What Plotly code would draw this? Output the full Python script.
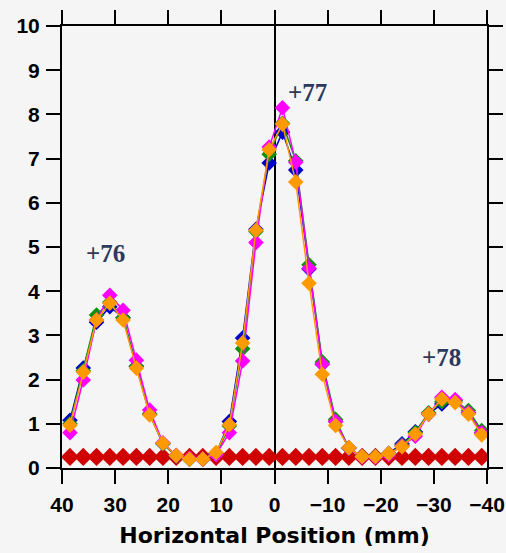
import plotly.graph_objects as go

positions = [38.5, 36, 33.5, 31, 28.5, 26, 23.5, 21, 18.5, 16, 13.5, 11, 8.5, 6, 3.5, 1,
             -1.5, -4, -6.5, -9, -11.5, -14, -16.5, -19, -21.5, -24, -26.5, -29, -31.5, -34, -36.5, -39]

blue = [1.08, 2.26, 3.30, 3.65, 3.40, 2.30, 1.22, 0.55, 0.27, 0.20, 0.20, 0.32, 1.05, 2.94, 5.40, 6.90,
        7.60, 6.74, 4.50, 2.35, 1.05, 0.45, 0.26, 0.26, 0.33, 0.55, 0.82, 1.22, 1.45, 1.52, 1.25, 0.80]
green = [1.00, 2.20, 3.46, 3.75, 3.40, 2.30, 1.22, 0.55, 0.27, 0.20, 0.20, 0.30, 0.95, 2.70, 5.35, 7.10,
         7.80, 6.95, 4.60, 2.40, 1.10, 0.45, 0.26, 0.26, 0.32, 0.52, 0.80, 1.25, 1.50, 1.52, 1.30, 0.85]
magenta = [0.80, 1.99, 3.35, 3.91, 3.57, 2.44, 1.31, 0.57, 0.28, 0.22, 0.20, 0.30, 0.80, 2.42, 5.10, 7.26,
           8.15, 6.92, 4.52, 2.35, 1.05, 0.45, 0.25, 0.25, 0.30, 0.50, 0.72, 1.22, 1.60, 1.55, 1.25, 0.80]
orange = [0.97, 2.17, 3.35, 3.73, 3.35, 2.26, 1.20, 0.56, 0.28, 0.20, 0.20, 0.35, 0.98, 2.83, 5.38, 7.20,
          7.78, 6.47, 4.18, 2.12, 0.96, 0.46, 0.26, 0.26, 0.33, 0.48, 0.77, 1.22, 1.56, 1.48, 1.22, 0.75]
red = [0.25, 0.25, 0.25, 0.25, 0.25, 0.25, 0.25, 0.25, 0.25, 0.25, 0.25, 0.25, 0.25, 0.25, 0.25, 0.25,
       0.25, 0.25, 0.25, 0.25, 0.25, 0.25, 0.25, 0.25, 0.25, 0.25, 0.25, 0.25, 0.25, 0.25, 0.25, 0.25]

peak_labels = ["+76", "+77", "+78"]
peak_x = [31.9, -6.3, -31.4]
peak_y = [4.86, 8.5, 2.51]

x_ticks = [40, 30, 20, 10, 0, -10, -20, -30, -40]
y_ticks = [0, 1, 2, 3, 4, 5, 6, 7, 8, 9, 10]

fig = go.Figure()

series = [
    (red, "#d00000", 14),
    (blue, "#0000cc", 12),
    (green, "#109010", 12),
    (magenta, "#ff00ff", 12),
    (orange, "#ff9900", 12),
]
for vals, col, sz in series:
    fig.add_trace(go.Scatter(
        x=positions, y=vals, mode="lines+markers",
        line=dict(color=col, width=1.5),
        marker=dict(symbol="diamond", size=sz, color=col, line=dict(width=0)),
        showlegend=False, hoverinfo="skip",
    ))

for t, xx, yy in zip(peak_labels, peak_x, peak_y):
    fig.add_annotation(x=xx, y=yy, text="<b>" + t + "</b>", showarrow=False,
                       font=dict(family="Liberation Serif", size=25, color="#2b3a5c"))

axis_common = dict(
    showline=True, linecolor="black", linewidth=2, mirror="ticks",
    ticks="outside", ticklen=14, tickwidth=2, tickcolor="black",
    showgrid=False, automargin=False,
    tickfont=dict(family="Liberation Sans", size=21, color="black", weight="bold"),
)

fig.update_xaxes(range=[40, -40], tickvals=x_ticks, zeroline=True, zerolinecolor="black",
                 zerolinewidth=2, ticklabelstandoff=3,
                 title=dict(text="Horizontal Position (mm)", standoff=12,
                            font=dict(family="DejaVu Sans", size=22, color="black", weight="bold")),
                 **axis_common)
fig.update_yaxes(range=[0, 10], tickvals=y_ticks, zeroline=False, ticklabelstandoff=2,
                 **axis_common)

fig.update_layout(
    width=506, height=553,
    margin=dict(l=62, r=19, t=26, b=85),
    paper_bgcolor="#f5f5f5", plot_bgcolor="#f5f5f5",
)

fig.write_html("out.html", config={"displayModeBar": False},
               post_script="document.body.style.margin='0';")
